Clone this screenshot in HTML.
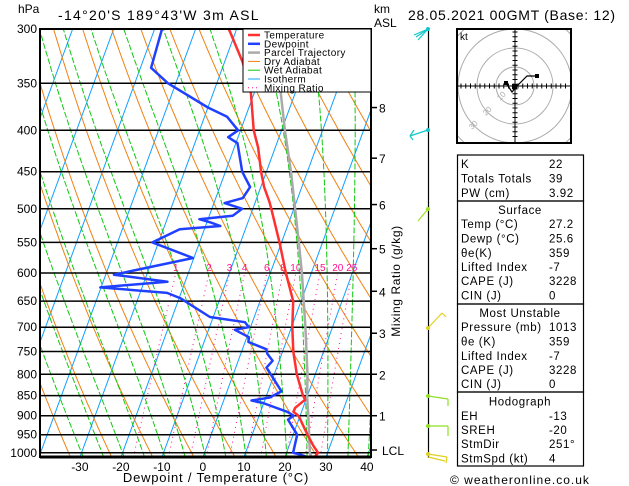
<!DOCTYPE html>
<html><head><meta charset="utf-8"><style>
html,body{margin:0;padding:0;background:#fff;}
svg{display:block;font-family:"Liberation Sans",sans-serif;}
</style></head><body>
<svg id="chart" width="629" height="486" viewBox="0 0 629 486" xmlns="http://www.w3.org/2000/svg">
<defs><clipPath id="pc"><rect x="40" y="29" width="331" height="428"/></clipPath>
<clipPath id="hc"><rect x="457" y="29" width="114" height="114"/></clipPath></defs>
<text x="18" y="13" font-size="12">hPa</text>
<text x="58" y="20" font-size="14" letter-spacing="1.3">-14°20'S  189°43'W  3m ASL</text>
<text x="374" y="13" font-size="12">km</text>
<text x="374" y="27" font-size="12">ASL</text>
<text x="408" y="20" font-size="14" letter-spacing="0.7">28.05.2021  00GMT  (Base: 12)</text>
<g id="bg" clip-path="url(#pc)"></g>
<g id="grid"></g>
<g id="prof" clip-path="url(#pc)"></g>
<rect x="40" y="29" width="331" height="428" fill="none" stroke="#000" stroke-width="2"/>
<line x1="40" y1="457" x2="371" y2="457" stroke="#000" stroke-width="3"/>
<g id="legend">
<rect x="243" y="29" width="128" height="63" fill="#fff" stroke="#000" stroke-width="1"/>
</g>
<g id="right"></g>
<text x="216" y="482" font-size="13" text-anchor="middle" letter-spacing="0.8">Dewpoint / Temperature (°C)</text>
<text transform="translate(400,281) rotate(-90)" font-size="12" text-anchor="middle" letter-spacing="0.6">Mixing Ratio (g/kg)</text>
<text x="450" y="484" font-size="12" letter-spacing="1">© weatheronline.co.uk</text>
</svg>
<script>
// ---- data ----
const tempP = [1013,1000,980,950,900,890,880,860,850,800,750,700,650,600,550,500,490,470,450,420,400,360,330,300];
const tempT = [27.2,27.7,25.9,23.5,19.6,18.0,18.1,19.8,18.9,15.5,12.6,10.2,8.1,3.8,-0.5,-5.5,-6.6,-9.2,-11.3,-14.2,-16.8,-20.8,-25.5,-31.9];
const dewP = [1013,1005,1000,950,910,900,890,868,862,855,840,785,770,755,745,730,720,705,700,690,680,645,635,625,615,603,575,550,530,525,520,515,510,500,492,485,470,450,415,408,400,385,375,350,335,300];
const dewT = [25.6,23.5,21.6,21.0,17.4,18.4,16.5,9.8,6.8,10.8,13.3,7.5,8.4,6.5,5.8,0.8,0.5,-3.6,-0.4,-1.8,-10.8,-19.6,-23.4,-40.2,-24.3,-38.0,-20.2,-31.5,-26.0,-16.4,-19.0,-22.1,-14.3,-12.6,-17.4,-13.4,-12.6,-15.9,-19.6,-22.4,-20.6,-24.5,-30.0,-41.9,-47.4,-48.2];
const parcelP = [1013,1000,900,850,800,700,600,550,500,450,400,360,300];
const parcelT = [26.5,25.7,22.0,19.9,18.1,13.4,7.7,4.2,0.3,-4.0,-9.2,-13.5,-21.5];
const pressureTicks = [300,350,400,450,500,550,600,650,700,750,800,850,900,950,1000];
const tempTicks = [-30,-20,-10,0,10,20,30,40];
const mixRatios = [1,2,3,4,6,8,10,15,20,25];
const kmLabels = ["8","7","6","5","4","3","2","1"];
const kmHeights = [8,7,6,5,4,3,2,1];

const NS="http://www.w3.org/2000/svg";
const Y=p=>29+352*Math.log(p/300);
const X=(T,p)=>203+4.1*T+0.366*(457-Y(p));
function el(tag,attrs,parent){const e=document.createElementNS(NS,tag);for(const k in attrs)e.setAttribute(k,attrs[k]);parent.appendChild(e);return e;}
const bg=document.getElementById('bg'),grid=document.getElementById('grid'),prof=document.getElementById('prof'),right=document.getElementById('right'),legend=document.getElementById('legend');
function path(pts){return 'M'+pts.map(q=>q[0].toFixed(1)+','+q[1].toFixed(1)).join('L');}
const plist=[];for(let p=1013;p>=295;p-=5)plist.push(p);
for(let T=-130;T<=40;T+=10){const l=el('line',{x1:X(T,1013),y1:Y(1013),x2:X(T,300),y2:Y(300),stroke:'#10a0ff','stroke-width':1},bg);

}
for(let th=240;th<=480;th+=10){const pts=plist.map(p=>{const T=th*Math.pow(p/1000,0.2857)-273.15;return [X(T,p),Y(p)];});
const e=el('path',{d:path(pts),fill:'none',stroke:'#f08010','stroke-width':1},bg);

}
const es=T=>6.112*Math.exp(17.67*T/(T+243.5));
function moist(tw){const res={};let T=tw+273.15;let p=1000;res[1000]=tw;
const step=(T,p,dp)=>{const Tc=T-273.15;const e=es(Tc);const rs=0.622*e/(p-e);const Lv=2.501e6,Rd=287,Cp=1005;
return dp/p*(Rd*T+Lv*rs)/(Cp+Lv*Lv*rs*0.622/(Rd*T*T));};
for(p=1000;p>295;p-=1){T+=step(T,p,-1);res[p-1]=T-273.15;}
T=tw+273.15;for(p=1000;p<1015;p+=1){T+=step(T,p,1);res[p+1]=T-273.15;}return res;}
for(let tw=-30;tw<=40;tw+=5){const m=moist(tw);const pts=plist.map(p=>[X(m[p],p),Y(p)]);
const e=el('path',{d:path(pts),fill:'none',stroke:'#10c810','stroke-width':1,'stroke-dasharray':'6,2'},bg);

}
function tdFromW(w,p){const e=w*p/(622+w);const a=Math.log(e/6.112);return 243.5*a/(17.67-a);}
mixRatios.forEach(w=>{const pts=[];for(let p=1013;p>=600;p-=5)pts.push([X(tdFromW(w,p),p),Y(p)]);
const e=el('path',{d:path(pts),fill:'none',stroke:'#ff1090','stroke-width':1,'stroke-dasharray':'1,4'},bg);


const t=el('text',{x:X(tdFromW(w,600),600),y:Y(600)-2,'font-size':10,fill:'#ff1090','text-anchor':'middle'},bg);t.textContent=w;

});
pressureTicks.forEach(p=>{const y=Y(p);const l=el('line',{x1:40,y1:y,x2:371,y2:y,stroke:'#000','stroke-width':1.5},grid);


const t=el('text',{x:37,y:y+4,'font-size':12,'text-anchor':'end'},grid);t.textContent=p;

});
tempTicks.forEach(T=>{const t=el('text',{x:X(T,1013),y:471,'font-size':12,'text-anchor':'middle'},grid);t.textContent=T;

});
kmHeights.forEach((k,i)=>{const p=[375,433,494,560,632,712,800,900][i];const y=Y(p);
const l=el('line',{x1:371,y1:y,x2:377,y2:y,stroke:'#000','stroke-width':1.5},right);


const t=el('text',{x:379,y:y+5,'font-size':12},right);t.textContent=kmLabels[i];

});
{const y=450;el('line',{x1:371,y1:y,x2:377,y2:y,stroke:'#000','stroke-width':1.5},right);
const t=el('text',{x:382,y:y+5,'font-size':12},right);t.textContent='LCL';

}
function series(P,T,color,w,name){const pts=P.map((p,i)=>[X(T[i],p),Y(p)]);
const e=el('path',{d:path(pts),fill:'none',stroke:color,'stroke-width':w,'stroke-linejoin':'round'},prof);

}
series(parcelP,parcelT,'#aaaaaa',2.5,'parcel-trajectory-line');
series(tempP,tempT,'#ff3030',2.5,'temperature-line');
series(dewP,dewT,'#2040ff',2.5,'dewpoint-line');
const leg=[['Temperature','#ff3030',2.5,''],['Dewpoint','#2040ff',2.5,''],['Parcel Trajectory','#aaaaaa',2.5,''],['Dry Adiabat','#f08010',1,''],['Wet Adiabat','#10c810',1,''],['Isotherm','#10a0ff',1,''],['Mixing Ratio','#ff1090',1,'1,3']];
leg.forEach((d,i)=>{const y=35+i*8.8;el('line',{x1:248,y1:y,x2:260,y2:y,stroke:d[1],'stroke-width':d[2],'stroke-dasharray':d[3]||'none'},legend);
const t=el('text',{x:264,y:y+3.5,'font-size':10,'letter-spacing':0.4},legend);t.textContent=d[0];

});
el('line',{x1:428.5,y1:29,x2:428.5,y2:458,stroke:'#000','stroke-width':1.2},right);
const barbs=[[29,'#10c8c8',[[428,29,418,40],[428,29,416,37],[428,29,414,35]]],[130,'#10c8c8',[[428,130,410,136],[410,136,414,130],[410,136,413,140]]],[209,'#a0e020',[[428,209,418,221]]],[328,'#e0d020',[[428,328,442,313],[442,313,446,317]]],[396,'#90e020',[[428,396,448,399],[448,399,448,406]]],[426,'#90e020',[[428,426,448,426],[448,426,448,436]]],[454,'#e0d020',[[428,454,447,457],[447,457,446,463],[428,457,445,461]]]];
barbs.forEach(b=>{b[2].forEach(s=>{el('line',{x1:s[0],y1:s[1],x2:s[2],y2:s[3],stroke:b[1],'stroke-width':1.2},right);});
const c=el('circle',{cx:428,cy:b[0],r:2,fill:b[1]},right);

});
const hg=el('g',{},right);
const hcx=515,hcy=86;
const hc=el('g',{'clip-path':'url(#hc)'},hg);
[19,38,57,76].forEach(r=>el('circle',{cx:hcx,cy:hcy,r:r,fill:'none',stroke:'#aaa','stroke-width':1},hc));
el('line',{x1:457,y1:hcy,x2:571,y2:hcy,stroke:'#000','stroke-width':1},hg);
el('line',{x1:hcx,y1:29,x2:hcx,y2:143,stroke:'#000','stroke-width':1},hg);
for(let d=-54;d<=54;d+=4.75){if(Math.abs(d)<1)continue;el('line',{x1:hcx+d,y1:hcy-2.5,x2:hcx+d,y2:hcy+2.5,stroke:'#000'},hg);el('line',{x1:hcx-2.5,y1:hcy+d,x2:hcx+2.5,y2:hcy+d,stroke:'#000'},hg);}
el('path',{d:'M506,83L512,92L517,86L527,76L537,76',fill:'none',stroke:'#000','stroke-width':1.2},hg);
el('rect',{x:535,y:74,width:4,height:4,fill:'#000'},hg);el('rect',{x:512,y:84,width:5,height:5,fill:'#000'},hg);el('rect',{x:504,y:81,width:4,height:4,fill:'#000'},hg);
el('rect',{x:457,y:29,width:114,height:114,fill:'none',stroke:'#000','stroke-width':2},hg);
const kt=el('text',{x:460,y:40,'font-size':10},hg);kt.textContent='kt';
[['10',500,101],['20',486,116],['30',472,130]].forEach(a=>{const t=el('text',{x:a[1],y:a[2],'font-size':8,fill:'#aaa',transform:`rotate(-45 ${a[1]} ${a[2]})`},hg);t.textContent=a[0];});
const boxes=[[155,201],[201,304],[304,392],[392,466]];
boxes.forEach(b=>{const r=el('rect',{x:457.5,y:b[0],width:126,height:b[1]-b[0],fill:'none',stroke:'#000','stroke-width':1.2},right);

});
const rows=[['K','22',164],['Totals Totals','39',178.7],['PW (cm)','3.92',193],['#Surface','',210],['Temp (°C)','27.2',224],['Dewp (°C)','25.6',238.7],['θe(K)','359',253],['Lifted Index','-7',267],['CAPE (J)','3228',281],['CIN (J)','0',295.7],['#Most Unstable','',313],['Pressure (mb)','1013',327],['θe (K)','359',341.7],['Lifted Index','-7',356],['CAPE (J)','3228',370],['CIN (J)','0',384],['#Hodograph','',401.7],['EH','-13',416],['SREH','-20',430],['StmDir','251°',444],['StmSpd (kt)','4',458.7]];
rows.forEach(r=>{const y=r[2]+4;if(r[0][0]==='#'){const t=el('text',{x:520,y:y,'font-size':11.5,'text-anchor':'middle','letter-spacing':0.6},right);t.textContent=r[0].slice(1);

return;}
const t=el('text',{x:461,y:y,'font-size':11.5,'letter-spacing':0.6},right);t.textContent=r[0];


const v=el('text',{x:549,y:y,'font-size':11.5,'letter-spacing':0.6},right);v.textContent=r[1];

});
</script>
</body></html>
